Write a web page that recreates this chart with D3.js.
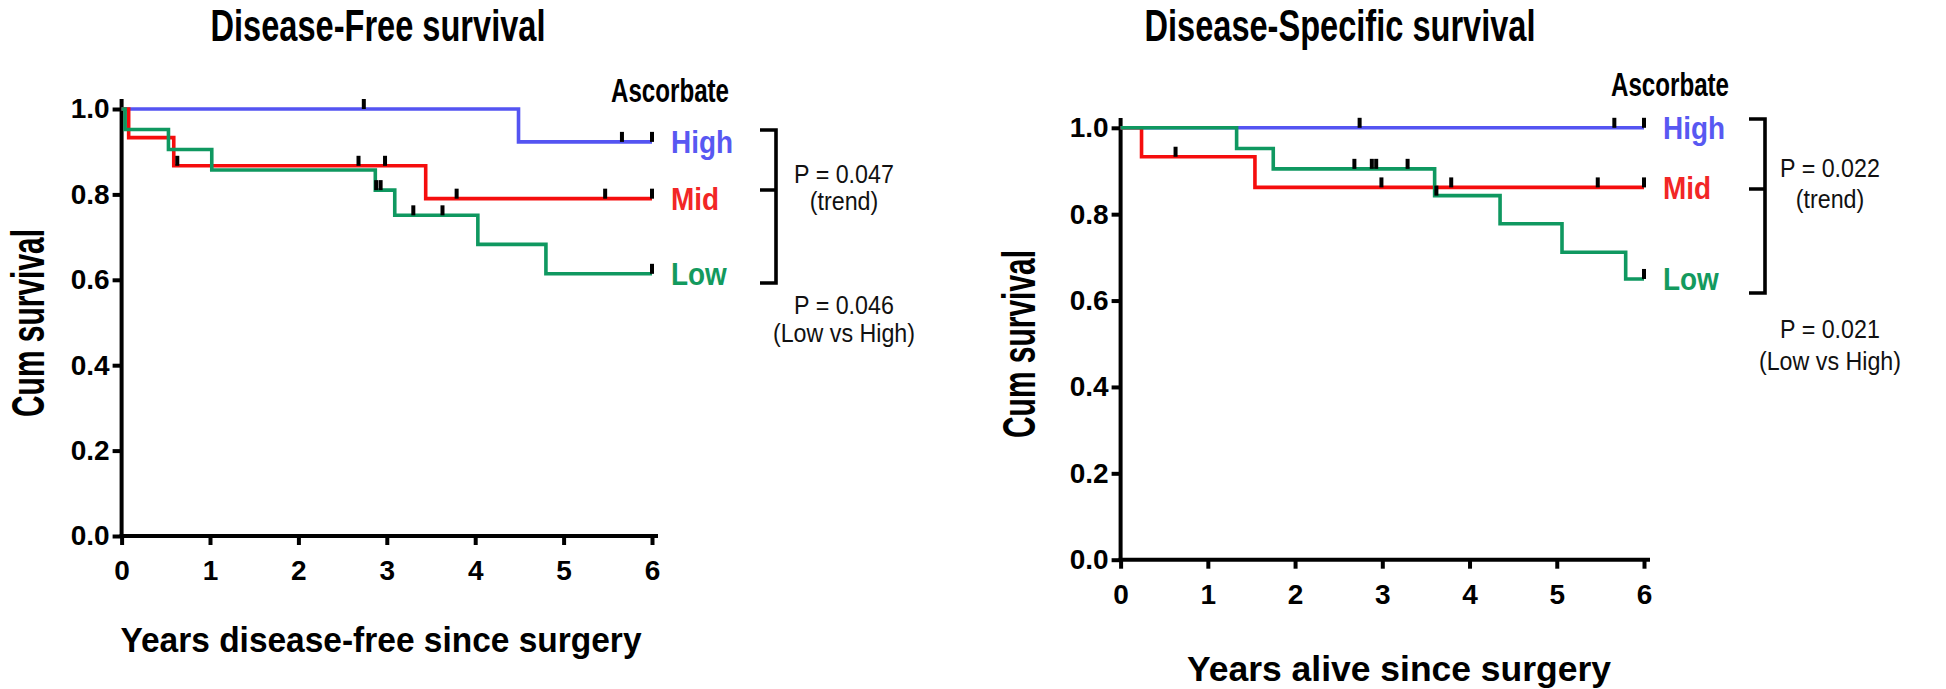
<!DOCTYPE html>
<html><head><meta charset="utf-8">
<script src="https://cdn.jsdelivr.net/npm/d3@7"></script>
<style>body{margin:0;background:#fff} svg{display:block}</style>
</head><body><svg id="c" width="1946" height="689"></svg>
<script>
// ---------- data ----------
const xTicks = [0, 1, 2, 3, 4, 5, 6];
const yTicks = [0, 0.2, 0.4, 0.6, 0.8, 1.0];
const groups = ["High", "Mid", "Low"];

// Disease-free survival: [time, survival after step]
const dfsHighSteps = [[0, 1.0], [4.49, 0.923]];
const dfsHighCens  = [2.74, 5.66, 6.0];
const dfsMidSteps  = [[0, 1.0], [0.08, 0.933], [0.59, 0.867], [3.44, 0.790]];
const dfsMidCens   = [0.63, 2.68, 2.98, 3.79, 5.47, 6.0];
const dfsLowSteps  = [[0, 1.0], [0.04, 0.952], [0.53, 0.905], [1.02, 0.857], [2.87, 0.810], [3.09, 0.751], [4.03, 0.683], [4.80, 0.614]];
const dfsLowCens   = [2.88, 2.93, 3.30, 3.63, 6.0];

// Disease-specific survival
const dssHighSteps = [[0, 1.0]];
const dssHighCens  = [2.74, 5.66, 6.0];
const dssMidSteps  = [[0, 1.0], [0.24, 0.933], [1.54, 0.862]];
const dssMidCens   = [0.63, 2.99, 3.79, 5.47, 6.0];
const dssLowSteps  = [[0, 1.0], [1.33, 0.952], [1.75, 0.905], [3.60, 0.843], [4.35, 0.778], [5.06, 0.712], [5.79, 0.650]];
const dssLowCens   = [2.68, 2.88, 2.93, 3.29, 3.62, 6.0];

const titles = ["Disease-Free survival", "Disease-Specific survival"];
const xTitles = ["Years disease-free since surgery", "Years alive since surgery"];
const yTitle = "Cum survival";
const legendTitle = "Ascorbate";
const pTrend = ["P = 0.047", "P = 0.022"];
const pLowHigh = ["P = 0.046", "P = 0.021"];

// ---------- style ----------
const lineColors  = ["#5454f2", "#f50d0d", "#0f9860"];
const labelColors = ["#5858f2", "#f22626", "#139a5e"];
const BOLD = "'Liberation Sans Narrow','Arial Narrow','Liberation Sans',Arial,sans-serif";
const SANS = "'Liberation Sans',Arial,Helvetica,sans-serif";

const svg = d3.select("#c");

const panels = [
  { x0: 121.6, x1: 652, y0: 536, y1: 109, yTop: 99, xEnd: 658,
    steps: [dfsHighSteps, dfsMidSteps, dfsLowSteps], cens: [dfsHighCens, dfsMidCens, dfsLowCens],
    title: titles[0], titleX: 378, titleLen: 335, xTitle: xTitles[0], xTitleX: 381, xTitleY: 639, xTitleLen: 521,
    yTitleX: 27, yTitleY: 323, asc: [670, 90], br: {x: 776, top: 130, mid: 190, bot: 283},
    pX: 844, pY: [174, 201, 305, 333], p1: pTrend[0], p2: pLowHigh[0] },
  { x0: 1120.6, x1: 1644, y0: 559.7, y1: 127.8, yTop: 118, xEnd: 1650,
    steps: [dssHighSteps, dssMidSteps, dssLowSteps], cens: [dssHighCens, dssMidCens, dssLowCens],
    title: titles[1], titleX: 1340, titleLen: 391, xTitle: xTitles[1], xTitleX: 1399, xTitleY: 668, xTitleLen: 424,
    yTitleX: 1018, yTitleY: 344, asc: [1670, 84], br: {x: 1765, top: 119, mid: 189, bot: 293},
    pX: 1830, pY: [167.5, 198.6, 329, 361], p1: pTrend[1], p2: pLowHigh[1] }
];

function survAt(steps, t) {
  let s = steps[0][1];
  for (const [tt, ss] of steps) if (tt <= t) s = ss;
  return s;
}
function squeeze(sel, f) {
  sel.each(function () {
    const L = this.getComputedTextLength();
    d3.select(this).attr("textLength", L * f).attr("lengthAdjust", "spacingAndGlyphs");
  });
}

panels.forEach(p => {
  const x = d3.scaleLinear().domain([0, 6]).range([p.x0, p.x1]);
  const y = d3.scaleLinear().domain([0, 1]).range([p.y0, p.y1]);
  const g = svg.append("g");

  // axes
  const ya = g.append("g").attr("transform", `translate(${p.x0},0)`)
    .call(d3.axisLeft(y).tickValues(yTicks).tickFormat(d3.format(".1f")).tickSize(9).tickSizeOuter(0).tickPadding(3));
  ya.select(".domain").attr("d", `M0,${p.y0 + 2}V${p.yTop}`);
  const xa = g.append("g").attr("transform", `translate(0,${p.y0})`)
    .call(d3.axisBottom(x).tickValues(xTicks).tickFormat(d3.format("d")).tickSize(9).tickSizeOuter(0).tickPadding(15));
  xa.select(".domain").attr("d", `M${p.x0 - 2},0H${p.xEnd}`);
  g.selectAll(".domain, .tick line").attr("stroke", "#000").attr("stroke-width", 4);
  g.selectAll(".tick text").attr("font-family", BOLD).attr("font-weight", "bold")
    .attr("font-size", 28).attr("fill", "#000");

  // curves
  const line = d3.line().x(d => x(d[0])).y(d => y(d[1])).curve(d3.curveStepAfter);
  p.steps.forEach((st, i) => {
    const pts = st.concat([[6, st[st.length - 1][1]]]);
    g.append("path").attr("d", line(pts)).attr("fill", "none")
      .attr("stroke", lineColors[i]).attr("stroke-width", 3.6);
  });
  // censor marks
  p.cens.forEach((cs, i) => {
    g.selectAll(null).data(cs).enter().append("rect")
      .attr("x", d => x(d) - 2).attr("y", d => y(survAt(p.steps[i], d)) - 10)
      .attr("width", 4).attr("height", 10).attr("fill", "#000");
  });

  // group labels
  groups.forEach((gname, i) => {
    const st = p.steps[i];
    g.append("text").attr("x", p.x1 + 19).attr("y", y(st[st.length - 1][1])).attr("dy", "0.36em")
      .attr("font-family", SANS).attr("font-weight", "bold").attr("font-size", 31)
      .attr("fill", labelColors[i]).text(gname).call(squeeze, 0.9);
  });

  // titles
  g.append("text").attr("x", p.titleX).attr("y", 41).attr("text-anchor", "middle")
    .attr("font-family", BOLD).attr("font-weight", "bold").attr("font-size", 44)
    .attr("textLength", p.titleLen).attr("lengthAdjust", "spacingAndGlyphs").text(p.title);
  g.append("text").attr("x", p.xTitleX).attr("y", p.xTitleY).attr("dy", "0.36em").attr("text-anchor", "middle")
    .attr("font-family", SANS).attr("font-weight", "bold").attr("font-size", 35)
    .attr("textLength", p.xTitleLen).attr("lengthAdjust", "spacingAndGlyphs").text(p.xTitle);
  g.append("text").attr("transform", `translate(${p.yTitleX},${p.yTitleY}) rotate(-90)`)
    .attr("dy", "0.36em").attr("text-anchor", "middle")
    .attr("font-family", BOLD).attr("font-weight", "bold").attr("font-size", 46)
    .attr("textLength", 188).attr("lengthAdjust", "spacingAndGlyphs").text(yTitle);
  g.append("text").attr("x", p.asc[0]).attr("y", p.asc[1]).attr("dy", "0.36em").attr("text-anchor", "middle")
    .attr("font-family", BOLD).attr("font-weight", "bold").attr("font-size", 34)
    .attr("textLength", 118).attr("lengthAdjust", "spacingAndGlyphs").text(legendTitle);

  // bracket
  const b = p.br;
  g.append("path").attr("d", `M${b.x - 16},${b.top}H${b.x}V${b.bot}H${b.x - 16}M${b.x},${b.mid}H${b.x - 16}`)
    .attr("fill", "none").attr("stroke", "#000").attr("stroke-width", 3.6);

  // p-values
  [p.p1, "(trend)", p.p2, "(Low vs High)"].forEach((t, i) => {
    g.append("text").attr("x", p.pX).attr("y", p.pY[i]).attr("dy", "0.36em").attr("text-anchor", "middle")
      .attr("font-family", SANS).attr("font-size", 25).attr("fill", "#111").text(t).call(squeeze, 0.93);
  });
});
</script>
</body></html>
